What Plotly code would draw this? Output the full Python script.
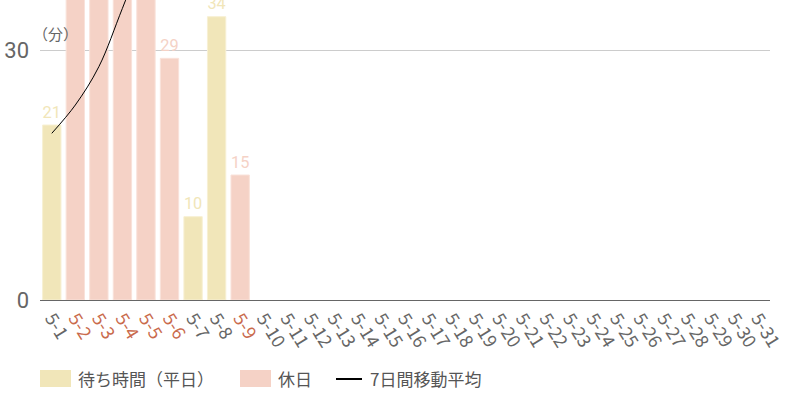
import plotly.graph_objects as go

# dates for May
days = ['5-%d' % d for d in range(1, 32)]

# weekday waiting time (minutes)
weekday_days = ['5-1', '5-7', '5-8']
weekday_wait = [21, 10, 34]

# holiday waiting time (minutes) - 5-2..5-5 run off the top of the chart
holiday_days = ['5-2', '5-3', '5-4', '5-5', '5-6', '5-9']
holiday_wait = [45, 60, 55, 42, 29, 15]

# 7 day moving average
avg_days = ['5-1', '5-2', '5-3', '5-4', '5-5', '5-6', '5-7', '5-8', '5-9']
avg_wait = [20, 23.4, 28, 35, 42, 46, 45, 44, 43]

YELLOW = '#f1e6b9'
PINK = '#f5d2c6'
GRAY = '#666666'
RUST = '#c96a4c'
NUM_FONT = 'Liberation Sans Narrow, Roboto, sans-serif'
JP_FONT = 'Noto Sans CJK JP, sans-serif'

# plot area in pixels, used for the hand made legend below
PLOT_L, PLOT_W, PLOT_H = 40, 730, 300


def px_x(x):
    return (x - PLOT_L) / PLOT_W


def px_y(y):
    return (PLOT_H - y) / PLOT_H


# tick labels, holidays drawn in rust
tick_text = []
for d in days:
    if d in holiday_days:
        tick_text.append('<span style="color:%s">%s</span>' % (RUST, d))
    else:
        tick_text.append(d)

fig = go.Figure()

fig.add_trace(go.Bar(
    x=weekday_days, y=weekday_wait, name='待ち時間（平日）',
    marker=dict(color=YELLOW, line=dict(color='#f7f0d4', width=1)),
    text=weekday_wait, textposition='outside', cliponaxis=False,
    textfont=dict(color=YELLOW, family=NUM_FONT, size=23),
))
fig.add_trace(go.Bar(
    x=holiday_days, y=holiday_wait, name='休日',
    marker=dict(color=PINK, line=dict(color='#f9e2da', width=1)),
    text=[v if v < 36 else '' for v in holiday_wait],
    textposition='outside', cliponaxis=False,
    textfont=dict(color=PINK, family=NUM_FONT, size=23),
))
fig.add_trace(go.Scatter(
    x=avg_days, y=avg_wait, name='7日間移動平均', mode='lines',
    line=dict(color='black', width=1, shape='spline'),
    hoverinfo='skip',
))

# legend drawn by hand so the swatches are wide boxes like the original
legend_shapes = [
    dict(type='rect', xref='paper', yref='paper', x0=px_x(40), x1=px_x(71),
         y0=px_y(370), y1=px_y(387), fillcolor=YELLOW, line=dict(width=0)),
    dict(type='rect', xref='paper', yref='paper', x0=px_x(240), x1=px_x(271),
         y0=px_y(370), y1=px_y(387), fillcolor=PINK, line=dict(width=0)),
    dict(type='line', xref='paper', yref='paper', x0=px_x(336), x1=px_x(362),
         y0=px_y(379), y1=px_y(379), line=dict(color='black', width=2)),
]
legend_labels = [('待ち時間（平日）', 76), ('休日', 276), ('7日間移動平均', 368)]
annotations = [dict(
    text='（分）', xref='paper', yref='y', x=-0.012, y=32,
    xanchor='left', yanchor='middle', showarrow=False,
    font=dict(size=15, color=GRAY, family=JP_FONT),
)]
for label, x in legend_labels:
    annotations.append(dict(
        text=label, xref='paper', yref='paper', x=px_x(x), y=px_y(379),
        xanchor='left', yanchor='middle', showarrow=False,
        font=dict(size=17, color='#555555', family=JP_FONT),
    ))

fig.update_layout(
    width=800, height=400,
    margin=dict(l=40, r=30, t=0, b=100),
    paper_bgcolor='white', plot_bgcolor='white',
    barmode='overlay', bargap=0.22,
    font=dict(family=JP_FONT, color=GRAY, size=14),
    showlegend=False,
    xaxis=dict(
        type='category', categoryorder='array', categoryarray=days,
        tickmode='array', tickvals=days, ticktext=tick_text,
        tickangle=58, tickfont=dict(family=JP_FONT, size=18, color=GRAY),
        showline=True, linecolor=GRAY, linewidth=1, ticks='',
        showgrid=False, range=[-0.5, 30.5], automargin=False,
    ),
    yaxis=dict(
        range=[0, 36], tickvals=[0, 30],
        tickfont=dict(family=NUM_FONT, size=22, color=GRAY),
        showgrid=True, gridcolor='#cccccc', gridwidth=1,
        zeroline=False, ticks='', ticklabelstandoff=10, automargin=False,
    ),
    shapes=legend_shapes,
    annotations=annotations,
)

# drop the default page margin so the chart sits at the window corner
fig.write_html('out.html', config={'displayModeBar': False},
               post_script="document.body.style.margin='0';")
